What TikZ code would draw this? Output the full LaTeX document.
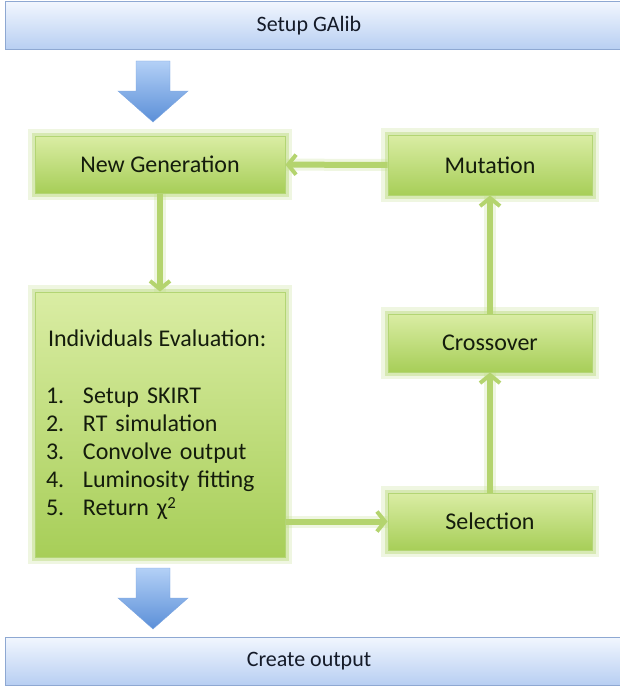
\documentclass[tikz,border=0pt]{standalone}
\usepackage{fontspec}
\setmainfont{Carlito}
\usetikzlibrary{arrows.meta,positioning,calc}
\definecolor{barTop}{HTML}{F1F6FE}
\definecolor{barBot}{HTML}{B7CEF2}
\definecolor{barEdge}{HTML}{8EA8D2}
\definecolor{arrTop}{HTML}{B3D0F6}
\definecolor{arrBot}{HTML}{5B8FD8}
\definecolor{gTop}{HTML}{DAEDA4}
\definecolor{gBot}{HTML}{A7CE58}
\definecolor{gEdge}{HTML}{B3D574}
\definecolor{gGlow}{HTML}{BFDC86}
\definecolor{gLine}{HTML}{B4D46E}
\definecolor{txtDark}{HTML}{141C0C}
\definecolor{txtBlue}{HTML}{141A28}

\begin{document}
\begin{tikzpicture}[
    x=1pt, y=-1pt,
    gbox/.style={rectangle, top color=gTop, bottom color=gBot, draw=gEdge, line width=1pt,
        preaction={draw=gGlow, line width=14pt, opacity=0.25},
        preaction={draw=gGlow, line width=7pt, opacity=0.5},
        font=\fontsize{24}{28}\selectfont, text=txtDark, inner sep=0pt},
    bbar/.style={rectangle, top color=barTop, bottom color=barBot, draw=barEdge, line width=1pt,
        minimum width=620pt, minimum height=48pt, inner sep=0pt},
    bartxt/.style={font=\fontsize{22}{26}\selectfont, text=txtBlue, inner sep=0pt},
    bigarrow/.style={top color=arrTop, bottom color=arrBot, draw=arrBot!80, line width=0.4pt},
    flow/.style={gLine, line width=6pt, -{Straight Barb[length=8pt, width=20pt, line width=4pt]},
        preaction={draw=gGlow, line width=12pt, opacity=0.25, arrows=-}}
]
\useasboundingbox (0,0) rectangle (619,693);

% bars
\node[bbar] (setup) at (315,26) {};
\node[bartxt] (setuplbl) at (309,26) {Setup GAlib};
\node[bbar] (create) at (315,661.5) {};
\node[bartxt] (createlbl) at (309,661.5) {Create output};

% green boxes
\node[gbox, minimum width=250pt, minimum height=57pt] (ng) at (160,164.5) {New Generation};
\node[gbox, minimum width=204pt, minimum height=60pt] (mut) at (490,165) {Mutation};
\node[gbox, minimum width=204pt, minimum height=58pt] (cross) at (490,343) {Crossover};
\node[gbox, minimum width=204pt, minimum height=57pt] (sel) at (490,521.5) {Selection};
\node[gbox, minimum width=250pt, minimum height=265pt, align=left, text width=228pt] (ind) at (160,424.5)
    {\hspace*{2pt}Individuals\hspace{-2pt} Evaluation:\\[29pt]
     \makebox[37pt][l]{1.}Setup SKIRT\\
     \makebox[37pt][l]{2.}RT simulation\\
     \makebox[37pt][l]{3.}Convolve output\\
     \makebox[37pt][l]{4.}Luminosity fitting\\
     \makebox[37pt][l]{5.}Return χ\raisebox{-2pt}{\textsuperscript{2}}};

% big block arrows
\path[bigarrow] (153,61) ++(-17,0) -- ++(34,0) -- ++(0,30) -- ++(18,0) -- ++(-35,31) -- ++(-35,-31) -- ++(18,0) -- cycle;
\path[bigarrow] (153,568) ++(-17,0) -- ++(34,0) -- ++(0,30) -- ++(18,0) -- ++(-35,31) -- ++(-35,-31) -- ++(18,0) -- cycle;

% loop
\draw[flow] (mut) -- (ng);
\draw[flow] (ng) -- (ind);
\draw[flow] (ind.east |- sel.west) -- (sel.west);
\draw[flow] (sel) -- (cross);
\draw[flow] (cross) -- (mut);
\end{tikzpicture}
\end{document}
